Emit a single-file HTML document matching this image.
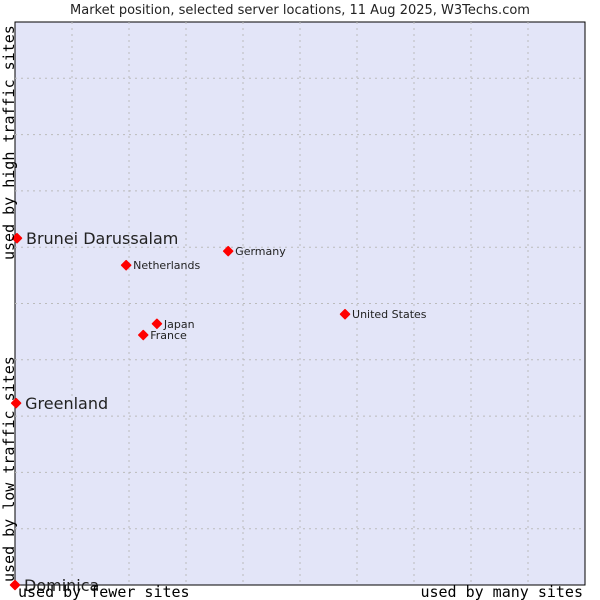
<!DOCTYPE html>
<html><head><meta charset="utf-8"><style>
body{margin:0;background:#fff;}
svg{display:block;}
</style></head><body>
<svg width="600" height="600" xmlns="http://www.w3.org/2000/svg">
<text x="300" y="14" text-anchor="middle" font-family="DejaVu Sans, sans-serif" font-size="13" fill="#222">Market position, selected server locations, 11 Aug 2025, W3Techs.com</text>
<rect x="15" y="22" width="570" height="563" fill="#e3e5f8" stroke="#000" stroke-width="1"/>
<g id="grid"></g>
<g id="pts"></g>
<text transform="translate(14,260) rotate(-90)" font-family="DejaVu Sans Mono, monospace" font-size="15" fill="#000">used by high traffic sites</text>
<text transform="translate(14,582) rotate(-90)" font-family="DejaVu Sans Mono, monospace" font-size="15" fill="#000">used by low traffic sites</text>
<text x="18" y="597" font-family="DejaVu Sans Mono, monospace" font-size="15" fill="#000">used by fewer sites</text>
<text x="583" y="597" text-anchor="end" font-family="DejaVu Sans Mono, monospace" font-size="15" fill="#000">used by many sites</text>
</svg>
<script>
const names=["Brunei Darussalam","Netherlands","Germany","Japan","France","United States","Greenland","Dominica"];
const xs=[0.35,19.5,37.4,24.9,22.5,57.9,0.2,0];
const ys=[61.6,56.8,59.3,46.4,44.4,48.1,32.3,0];
const big=[true,false,false,false,false,false,true,true];
const L=15,R=585,T=22,B=585;
const sx=v=>L+v/100*(R-L), sy=v=>B-v/100*(B-T);
const NS="http://www.w3.org/2000/svg";
const grid=document.getElementById('grid');
for(let i=1;i<10;i++){
 const v=document.createElementNS(NS,'line');
 
 
 v.setAttribute('x1',sx(i*10));v.setAttribute('x2',sx(i*10));v.setAttribute('y1',T);v.setAttribute('y2',B);
 v.setAttribute('stroke','#bbb');v.setAttribute('stroke-dasharray','2,4');grid.appendChild(v);
 const h=document.createElementNS(NS,'line');
 
 
 h.setAttribute('y1',sy(i*10));h.setAttribute('y2',sy(i*10));h.setAttribute('x1',L);h.setAttribute('x2',R);
 h.setAttribute('stroke','#bbb');h.setAttribute('stroke-dasharray','2,4');grid.appendChild(h);
}
const pts=document.getElementById('pts');
names.forEach((n,i)=>{
 const x=sx(xs[i]),y=sy(ys[i]);
 const p=document.createElementNS(NS,'path');
 
 
 p.setAttribute('d',`M${x-4.5},${y} L${x},${y-4.5} L${x+4.5},${y} L${x},${y+4.5}Z`);
 p.setAttribute('fill','#f00');p.setAttribute('stroke','#f00');p.setAttribute('stroke-width','1.5');p.setAttribute('stroke-linejoin','round');
 pts.appendChild(p);
 const t=document.createElementNS(NS,'text');
 
 
 t.setAttribute('x',x+(big[i]?9:7));t.setAttribute('y',y+(big[i]?6:4));
 t.setAttribute('font-family','DejaVu Sans, sans-serif');
 t.setAttribute('font-size',big[i]?'16':'11');t.setAttribute('fill','#222');
 t.textContent=n;pts.appendChild(t);
});
</script>
</body></html>
